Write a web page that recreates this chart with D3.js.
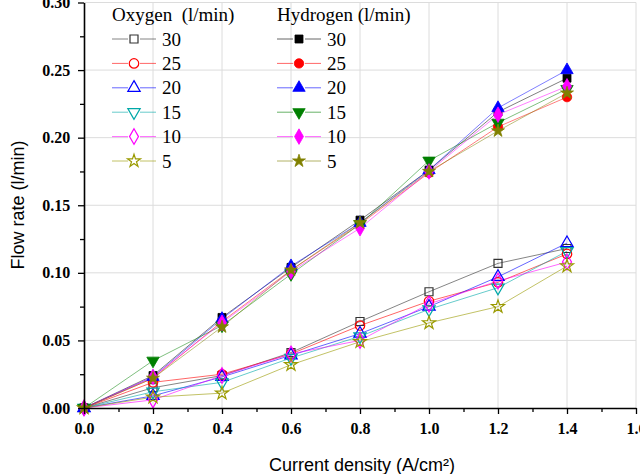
<!DOCTYPE html>
<html><head><meta charset="utf-8">
<script src="https://cdn.jsdelivr.net/npm/d3@7"></script>
<style>body{margin:0;background:#fff}svg{display:block}</style>
</head><body><svg id="c" width="640" height="474"></svg>
<script>
const xValues = [0, 0.2, 0.4, 0.6, 0.8, 1.0, 1.2, 1.4];
const seriesLabels = ["30", "25", "20", "15", "10", "5"];
const oxygen30 = [0, 0.015, 0.024, 0.041, 0.064, 0.086, 0.107, 0.118];
const oxygen25 = [0, 0.019, 0.025, 0.040, 0.061, 0.079, 0.093, 0.114];
const oxygen20 = [0, 0.009, 0.023, 0.039, 0.055, 0.075, 0.097, 0.122];
const oxygen15 = [0, 0.012, 0.019, 0.037, 0.053, 0.073, 0.089, 0.116];
const oxygen10 = [0, 0.006, 0.024, 0.040, 0.050, 0.077, 0.094, 0.108];
const oxygen5  = [0, 0.008, 0.011, 0.032, 0.049, 0.063, 0.075, 0.105];
const hydrogen30 = [0, 0.024, 0.067, 0.104, 0.139, 0.176, 0.219, 0.244];
const hydrogen25 = [0, 0.022, 0.064, 0.102, 0.136, 0.174, 0.208, 0.230];
const hydrogen20 = [0, 0.023, 0.066, 0.105, 0.137, 0.176, 0.222, 0.250];
const hydrogen15 = [0, 0.035, 0.061, 0.099, 0.136, 0.183, 0.211, 0.236];
const hydrogen10 = [0, 0.023, 0.063, 0.101, 0.133, 0.175, 0.217, 0.238];
const hydrogen5  = [0, 0.022, 0.060, 0.102, 0.137, 0.175, 0.205, 0.233];
const xTicks = [0, 0.2, 0.4, 0.6, 0.8, 1.0, 1.2, 1.4, 1.6];
const yTicks = [0, 0.05, 0.10, 0.15, 0.20, 0.25, 0.30];

const oxyColors = ["#333333", "#ff0000", "#0000ff", "#00a8a8", "#ff00ff", "#9a9a00"];
const hydColors = ["#000000", "#ff0000", "#0000ff", "#007f00", "#ff00ff", "#808000"];
const shapes = [d3.symbolSquare, d3.symbolCircle, d3.symbolTriangle, "tdown", d3.symbolDiamond, d3.symbolStar];

const oxygen = [oxygen30, oxygen25, oxygen20, oxygen15, oxygen10, oxygen5];
const hydrogen = [hydrogen30, hydrogen25, hydrogen20, hydrogen15, hydrogen10, hydrogen5];

const svg = d3.select("#c");
const x = d3.scaleLinear().domain([0, 1.6]).range([84, 636]);
const y = d3.scaleLinear().domain([0, 0.30]).range([408, 2.5]);

// grid
svg.append("g").selectAll("line").data(xTicks.slice(1)).join("line")
  .attr("x1", d => x(d)).attr("x2", d => x(d)).attr("y1", y(0.30)).attr("y2", y(0))
  .attr("stroke", "#dcdcdc").attr("stroke-width", 1);
svg.append("g").selectAll("line").data(yTicks.slice(1)).join("line")
  .attr("x1", x(0)).attr("x2", x(1.6)).attr("y1", d => y(d)).attr("y2", d => y(d))
  .attr("stroke", "#dcdcdc").attr("stroke-width", 1);

function symPath(shape, size) {
  if (shape === "tdown") return d3.symbol(d3.symbolTriangle, size)();
  return d3.symbol(shape, size)();
}
function marker(g, i, filled, color, cx, cy, scale) {
  const sizes = [64, 70, 66, 66, 70, 52];
  const s = sizes[i] * (scale || 1);
  const p = g.append("path").attr("d", symPath(shapes[i], s))
    .attr("transform", `translate(${cx},${cy})` + (shapes[i] === "tdown" ? " rotate(180)" : ""));
  if (filled) p.attr("fill", color).attr("stroke", color).attr("stroke-width", 0.8);
  else p.attr("fill", "none").attr("stroke", color).attr("stroke-width", 1.2);
}

const line = d3.line().x((d, i) => x(xValues[i])).y(d => y(d));
const plot = svg.append("g");
oxygen.forEach((s, i) => plot.append("path").attr("d", line(s)).attr("fill", "none")
  .attr("stroke", oxyColors[i]).attr("stroke-opacity", 0.6).attr("stroke-width", 1));
hydrogen.forEach((s, i) => plot.append("path").attr("d", line(s)).attr("fill", "none")
  .attr("stroke", hydColors[i]).attr("stroke-opacity", 0.5).attr("stroke-width", 1));
oxygen.forEach((s, i) => s.forEach((v, j) => marker(plot, i, false, oxyColors[i], x(xValues[j]), y(v))));
hydrogen.forEach((s, i) => s.forEach((v, j) => marker(plot, i, true, hydColors[i], x(xValues[j]), y(v))));

// axes
const xAxis = svg.append("g").attr("transform", `translate(0,${y(0)})`)
  .call(d3.axisBottom(x).tickValues(xTicks).tickFormat(d3.format(".1f")).tickSize(6).tickSizeOuter(0));
svg.append("g").attr("transform", `translate(0,${y(0)})`)
  .call(d3.axisBottom(x).tickValues(d3.range(0.1, 1.6, 0.2)).tickFormat("").tickSize(4).tickSizeOuter(0))
  .select(".domain").remove();
const yAxis = svg.append("g").attr("transform", `translate(${x(0)},0)`)
  .call(d3.axisLeft(y).tickValues(yTicks).tickFormat(d3.format(".2f")).tickSize(6).tickSizeOuter(0));
svg.append("g").attr("transform", `translate(${x(0)},0)`)
  .call(d3.axisLeft(y).tickValues(d3.range(0.025, 0.30, 0.05)).tickFormat("").tickSize(4).tickSizeOuter(0))
  .select(".domain").remove();
svg.selectAll(".domain").attr("stroke", "#000").attr("stroke-width", 1.6);
svg.selectAll(".tick line").attr("stroke", "#000").attr("stroke-width", 1.3);
xAxis.selectAll("text").attr("font-family", "Liberation Serif").attr("font-weight", "bold")
  .attr("font-size", 16).attr("fill", "#000").attr("dy", "1.05em");
yAxis.selectAll("text").attr("font-family", "Liberation Serif").attr("font-weight", "bold")
  .attr("font-size", 16).attr("fill", "#000").attr("dx", "-0.3em");

// titles
svg.append("text").attr("x", 362).attr("y", 471).attr("text-anchor", "middle")
  .attr("font-family", "Liberation Sans").attr("font-size", 18).text("Current density (A/cm²)");
svg.append("text").attr("transform", "translate(24,205) rotate(-90)").attr("text-anchor", "middle")
  .attr("font-family", "Liberation Sans").attr("font-size", 18).text("Flow rate (l/min)");

// legend
const leg = svg.append("g").attr("font-family", "Liberation Serif").attr("font-size", 19);
function legendBlock(x0, title, colors, filled) {
  leg.append("text").attr("x", x0).attr("y", 21).text(title);
  seriesLabels.forEach((lab, i) => {
    const cy = 39 + i * 24.4;
    leg.append("line").attr("x1", x0).attr("x2", x0 + 44).attr("y1", cy).attr("y2", cy)
      .attr("stroke", colors[i]).attr("stroke-opacity", 0.6).attr("stroke-width", 1);
    leg.append("rect").attr("x", x0 + 16).attr("y", cy - 5).attr("width", 12).attr("height", 10).attr("fill", "#fff");
    marker(leg, i, filled, colors[i], x0 + 22, cy, 1);
    leg.append("text").attr("x", x0 + 50).attr("y", cy + 6.5).text(lab);
  });
}
legendBlock(112, "Oxygen\u00a0\u00a0(l/min)", oxyColors, false);
legendBlock(277, "Hydrogen (l/min)", hydColors, true);
</script></body></html>
